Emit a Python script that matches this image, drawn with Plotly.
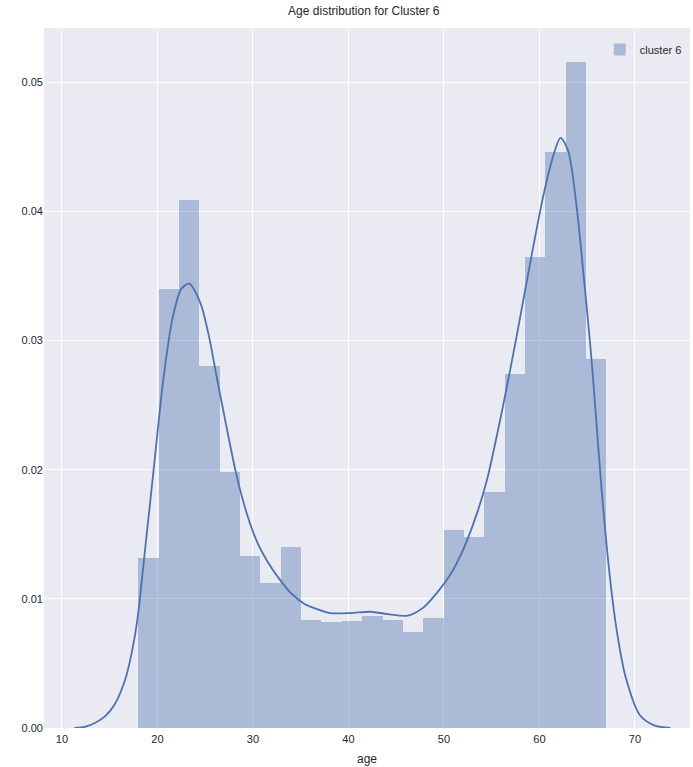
import numpy as np
import plotly.graph_objects as go

# Histogram (density) of age, cluster 6
age_min = 18.0
age_max = 67.0
n_bins = 23
density = [0.0132, 0.0340, 0.0409, 0.0280, 0.0198, 0.0133, 0.0112, 0.0140,
           0.0084, 0.0082, 0.0083, 0.0087, 0.0084, 0.0074, 0.0085, 0.0153,
           0.0148, 0.0183, 0.0274, 0.0365, 0.0446, 0.0516, 0.0286]

# KDE curve
kde_x = [11.3, 12.5, 13.5, 14.5, 15.5, 16.6, 17.3, 17.9, 18.8, 19.6, 20.6, 21.6,
         22.5, 23.3, 24.5, 25.4, 26.2, 27.1, 28.3, 29.4, 30.5, 31.6, 32.6, 33.9,
         35.4, 36.0, 38.1, 40.2, 42.3, 44.3, 46.2, 47.8, 49.3, 50.6, 52.0, 53.4,
         54.5, 56.2, 57.6, 59.0, 60.4, 61.4, 62.2, 63.0, 63.9, 64.6, 65.3, 65.7,
         66.5, 67.4, 68.1, 69.0, 70.5, 72.0, 73.7]
kde_y = [0.0, 0.0001, 0.0004, 0.0009, 0.0018, 0.0037, 0.0058, 0.0084, 0.0145, 0.0200,
         0.0269, 0.0318, 0.0340, 0.0344, 0.0329, 0.0303, 0.0272, 0.0238, 0.0195,
         0.0165, 0.0143, 0.0128, 0.0117, 0.0105, 0.0096, 0.0094, 0.0089, 0.0089,
         0.0090, 0.0088, 0.0087, 0.0093, 0.0105, 0.0118, 0.0138, 0.0165, 0.0192,
         0.0250, 0.0303, 0.0359, 0.0412, 0.0442, 0.0457, 0.0447, 0.0403, 0.0352,
         0.0298, 0.0262, 0.0185, 0.0115, 0.0075, 0.0040, 0.0010, 0.0002, 0.0]

x_ticks = [10, 20, 30, 40, 50, 60, 70]
y_ticks = [0.00, 0.01, 0.02, 0.03, 0.04, 0.05]

edges = np.linspace(age_min, age_max, n_bins + 1)
centers = (edges[:-1] + edges[1:]) / 2
bw = edges[1] - edges[0]

blue = "#4C72B0"
fig = go.Figure()
fig.add_trace(go.Bar(
    x=centers, y=density, width=bw, name="cluster 6",
    marker=dict(color="rgba(76,114,176,0.4)", line=dict(width=0)),
    showlegend=True,
))
fig.add_trace(go.Scatter(
    x=kde_x, y=kde_y, mode="lines", line=dict(color=blue, width=1.8, shape="spline", smoothing=0.8),
    showlegend=False, hoverinfo="skip",
))

font = "Liberation Sans, Arial, sans-serif"
fig.update_layout(
    width=693, height=767,
    margin=dict(l=44, r=3, t=28, b=39),
    paper_bgcolor="white", plot_bgcolor="#EAEAF2",
    font=dict(family=font, size=11, color="#262626"),
    title=dict(text="Age distribution for Cluster 6", x=0.525, xanchor="center",
               y=1 - 11 / 767, yanchor="middle", yref="container",
               font=dict(size=12, color="#262626")),
    bargap=0,
    legend=dict(x=0.995, y=0.99, xanchor="right", yanchor="top",
                bgcolor="rgba(0,0,0,0)", font=dict(size=11, color="#262626")),
    xaxis=dict(range=[8.12, 75.76], tickvals=x_ticks, ticktext=[str(t) for t in x_ticks],
               showgrid=True, gridcolor="white", gridwidth=1, zeroline=False, automargin=False,
               showline=False, ticks="", ticklabelstandoff=3,
               title=dict(text="age", standoff=10, font=dict(size=12))),
    yaxis=dict(range=[0, 0.0542], tickvals=y_ticks, ticktext=["%.2f" % t for t in y_ticks],
               showgrid=True, gridcolor="white", gridwidth=1, zeroline=False, automargin=False,
               showline=False, ticks=""),
)
fig.write_html("out.html", config={"displayModeBar": False},
               post_script="document.body.style.margin='0';document.body.style.overflow='hidden';")
